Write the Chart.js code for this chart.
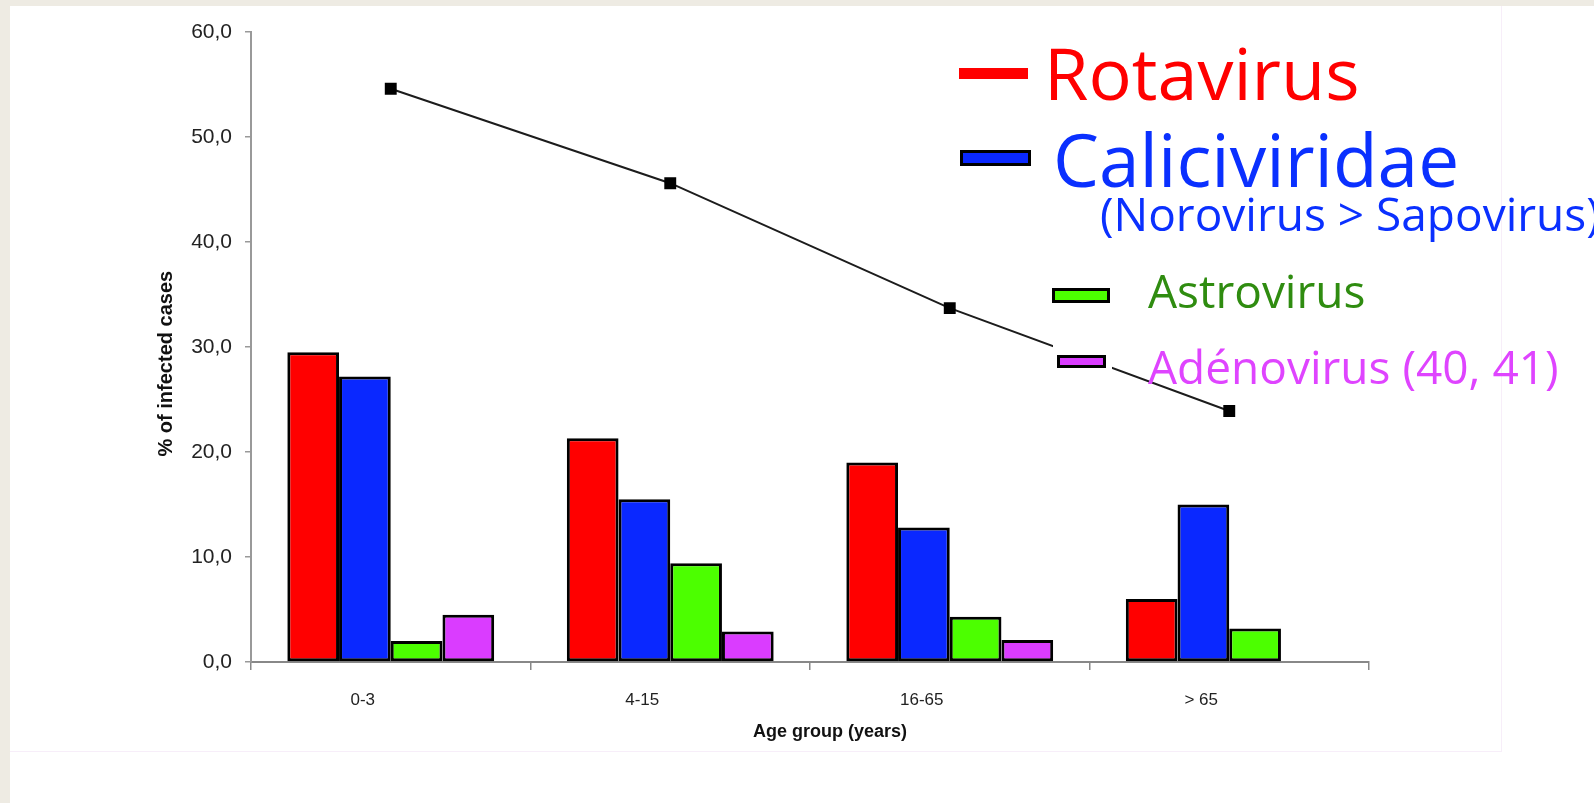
<!DOCTYPE html>
<html>
<head>
<meta charset="utf-8">
<script src="https://cdn.jsdelivr.net/npm/chart.js@4.4.0/dist/chart.umd.min.js"></script>
<style>
  body { margin: 0; width: 1594px; height: 803px; background: #fff; position: relative; overflow: hidden; }
  .beige-top { position: absolute; left: 0; top: 0; width: 1594px; height: 6px; background: #eeebe3; }
  .beige-left { position: absolute; left: 0; top: 0; width: 10px; height: 803px; background: #eeebe3; }
  .panel { position: absolute; left: 10px; top: 6px; width: 1491px; height: 745px; background: #fff;
           border-right: 1px solid #f7eef9; border-bottom: 1px solid #f7eef9; }
  #wrap { position: absolute; left: 0; top: 0; width: 1594px; height: 803px; }
  .leg { position: absolute; line-height: 1; white-space: nowrap; font-family: "Open Sans", sans-serif; }
  .sw { position: absolute; box-sizing: border-box; }
</style>
</head>
<body>
<div class="beige-top"></div>
<div class="beige-left"></div>
<div class="panel"></div>
<div id="wrap"><canvas id="grafico" width="1594" height="803"></canvas></div>
<div id="leyenda"></div>
<script>
// datos
const ageGroups = ['0-3', '4-15', '16-65', '> 65'];
const rotavirus = [29.5, 21.3, 19.0, 6.0];
const caliciviridae = [27.2, 15.5, 12.8, 15.0];
const astrovirus = [2.0, 9.4, 4.3, 3.2];
const adenovirus = [4.5, 2.9, 2.1, null];
const totalInfected = [54.6, 45.6, 33.7, 23.9];

const seriesNames = ['Rotavirus', 'Caliciviridae', 'Astrovirus', 'Adénovirus (40, 41)'];
const calicSubtitle = '(Norovirus > Sapovirus)';
const barColors = ['#ff0000', '#0a28ff', '#4cff00', '#da3cff'];
const textColors = ['#ff0000', '#0a30ff', '#2f8c10', '#df44ff'];

const fontFamily = 'Liberation Sans, Arial, sans-serif';

function barDataset(i, data) {
    return {
        type: 'bar',
        label: seriesNames[i],
        data: data,
        backgroundColor: barColors[i],
        borderColor: '#000',
        borderWidth: 3,
        borderSkipped: false,
        order: 1
    };
}

const ctx = document.getElementById('grafico').getContext('2d');
new Chart(ctx, {
    type: 'bar',
    data: {
        labels: ageGroups,
        datasets: [
            {
                type: 'line',
                label: 'Total',
                data: totalInfected,
                borderColor: '#1c1c1c',
                borderWidth: 2,
                pointStyle: 'rect',
                pointRadius: 7,
                pointBackgroundColor: '#000',
                pointBorderColor: '#000',
                tension: 0,
                order: 0
            },
            barDataset(0, rotavirus),
            barDataset(1, caliciviridae),
            barDataset(2, astrovirus),
            barDataset(3, adenovirus)
        ]
    },
    options: {
        responsive: false,
        animation: false,
        layout: { padding: { left: 150, top: 32, right: 225, bottom: 56 } },
        plugins: { legend: { display: false }, tooltip: { enabled: false } },
        datasets: { bar: { categoryPercentage: 0.74, barPercentage: 1.0 } },
        scales: {
            x: {
                offset: true,
                grid: { drawOnChartArea: false, offset: true, tickLength: 8, color: '#888', lineWidth: 1.5 },
                border: { color: '#888', width: 2 },
                ticks: { labelOffset: -28, padding: 20, color: '#222', font: { family: fontFamily, size: 17 } },
                // los espacios delante corren el titulo a la derecha como en el original
                title: { display: true, text: '        Age group (years)', color: '#111', font: { family: fontFamily, size: 18, weight: 'bold' }, padding: { top: 4, bottom: 4 } },
                afterFit: function (scale) { scale.height = 85; }
            },
            y: {
                min: 0,
                max: 60,
                grid: { drawOnChartArea: false, tickLength: 6, color: '#999', lineWidth: 1.5 },
                border: { color: '#999', width: 2 },
                ticks: {
                    stepSize: 10,
                    padding: 13,
                    color: '#222',
                    font: { family: fontFamily, size: 21 },
                    callback: function (v) { return v.toFixed(1).replace('.', ','); }
                },
                title: { display: true, text: '% of infected cases      ', color: '#111', font: { family: fontFamily, size: 20, weight: 'bold' }, padding: { top: 4, bottom: 4 } },
                afterFit: function (scale) { scale.width = 101; }
            }
        }
    }
});

// leyenda hecha a mano, como en la diapositiva
const leyenda = document.getElementById('leyenda');
function addText(text, color, size, left, top) {
    const d = document.createElement('div');
    d.className = 'leg';
    d.textContent = text;
    d.style.cssText = 'color:' + color + ';font-size:' + size + 'px;left:' + left + 'px;top:' + top + 'px;';
    leyenda.appendChild(d);
}
function addSwatch(color, left, top, w, h, border) {
    const d = document.createElement('div');
    d.className = 'sw';
    d.style.cssText = 'background:' + color + ';left:' + left + 'px;top:' + top + 'px;width:' + w + 'px;height:' + h + 'px;' +
        (border ? 'border:3px solid #000;' : '');
    leyenda.appendChild(d);
}

addSwatch(barColors[0], 959, 68, 69, 11, false);
addText(seriesNames[0], textColors[0], 72, 1044, 36);

addSwatch(barColors[1], 960, 150, 71, 16, true);
addText(seriesNames[1], textColors[1], 73, 1053, 122);
addText(calicSubtitle, textColors[1], 46, 1100, 190);

addSwatch(barColors[2], 1052, 288, 58, 15, true);
addText(seriesNames[2], textColors[2], 46, 1148, 267);

addSwatch('#fff', 1053, 344, 59, 32, false);
addSwatch(barColors[3], 1057, 355, 49, 13, true);
addText(seriesNames[3], textColors[3], 46, 1148, 343);
</script>
</body>
</html>
